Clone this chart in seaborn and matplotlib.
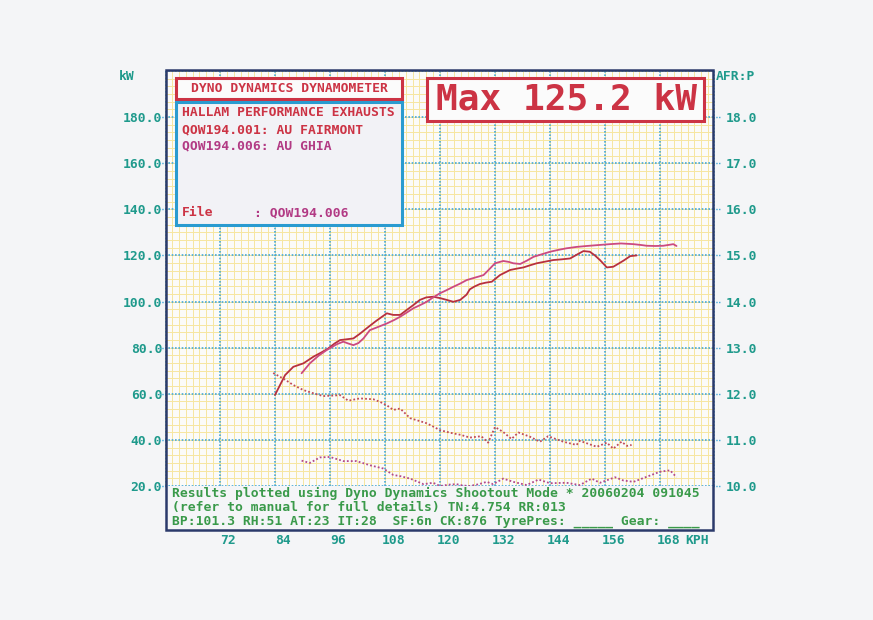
import matplotlib
matplotlib.use("Agg")
import matplotlib.pyplot as plt
import matplotlib.patches as patches
import matplotlib.transforms as mtransforms
import numpy as np
import pandas as pd
import seaborn as sns

# power run QOW194.006 (AU GHIA)
ghia_kph = [89.8, 91.6, 93.5, 95.3, 97.5, 98.9, 100.0, 101.1, 102.2, 103.3, 104.7, 106.5,
            108.4, 110.0, 111.3, 112.8, 114.2, 115.7, 117.1, 118.5, 120.0, 121.5, 122.9,
            124.4, 125.8, 127.3, 128.7, 129.5, 130.5, 132.0, 133.8, 135.0, 136.0, 137.5,
            139.0, 140.4, 142.2, 144.0, 145.8, 147.6, 149.8, 152.0, 154.5, 157.1, 159.5,
            162.2, 164.0, 165.1, 167.0, 168.7, 170.0, 170.9, 171.6]
ghia_kw = [68.9, 73.2, 76.5, 79.0, 81.5, 82.6, 81.8, 81.1, 82.0, 84.0, 87.6, 89.0,
           90.5, 92.0, 93.4, 95.3, 97.1, 98.5, 99.9, 101.8, 103.6, 105.0, 106.4,
           107.8, 109.3, 110.2, 111.0, 111.5, 113.5, 116.6, 117.6, 117.2, 116.6, 116.3,
           117.8, 119.4, 120.5, 121.6, 122.4, 123.1, 123.7, 124.1, 124.5, 124.9, 125.2,
           124.9, 124.5, 124.2, 124.1, 124.2, 124.6, 124.9, 124.1]

# power run QOW194.001 (AU FAIRMONT)
fair_kph = [84.0, 85.1, 86.2, 88.0, 90.2, 92.4, 94.0, 95.5, 97.0, 98.2, 99.5, 101.1,
            102.5, 104.0, 106.0, 108.4, 109.8, 111.3, 112.7, 114.2, 115.6, 117.0, 118.5,
            120.0, 121.5, 122.9, 124.4, 125.8, 126.5, 127.5, 128.7, 130.0, 131.3, 133.1,
            135.3, 136.8, 138.2, 139.6, 141.1, 142.9, 144.7, 146.5, 148.4, 150.0, 151.3,
            152.7, 153.8, 154.9, 155.7, 156.4, 157.8, 159.0, 160.0, 161.5, 162.9]
fair_kw = [59.5, 63.8, 68.1, 71.7, 73.2, 76.1, 77.8, 79.5, 81.8, 83.3, 83.6, 84.0,
           86.0, 88.4, 91.5, 94.9, 94.2, 94.2, 96.3, 98.5, 100.7, 101.8, 102.1,
           101.5, 100.7, 99.9, 100.7, 103.0, 105.3, 106.5, 107.6, 108.2, 108.6, 111.5,
           113.7, 114.3, 114.8, 115.7, 116.6, 117.3, 118.0, 118.3, 118.7, 120.5, 121.9,
           121.6, 120.0, 118.0, 116.3, 114.8, 115.1, 116.5, 117.7, 119.7, 120.0]

# air fuel ratio, FAIRMONT run
fair_afr_kph = [83.6, 85.8, 88.0, 90.2, 92.4, 94.5, 96.5, 98.2, 100.0, 102.5, 105.5, 107.0,
                108.4, 109.8, 111.3, 113.5, 115.5, 117.1, 118.5, 120.0, 122.9, 124.5, 126.5,
                129.0, 130.5, 132.0, 133.8, 135.6, 137.1, 139.6, 141.8, 143.6, 145.5, 146.9,
                149.8, 150.5, 152.5, 154.2, 156.4, 157.8, 159.6, 160.8, 161.8]
fair_afr = [12.45, 12.33, 12.19, 12.08, 12.01, 11.95, 11.96, 11.97, 11.85, 11.90, 11.88, 11.82,
            11.75, 11.65, 11.68, 11.47, 11.41, 11.36, 11.29, 11.21, 11.14, 11.11, 11.05,
            11.08, 10.94, 11.28, 11.17, 11.02, 11.16, 11.07, 10.96, 11.08, 11.01, 10.96,
            10.89, 10.98, 10.91, 10.85, 10.94, 10.81, 10.96, 10.87, 10.89]

# air fuel ratio, GHIA run
ghia_afr_kph = [89.8, 91.6, 93.8, 96.0, 98.9, 101.8, 104.7, 107.6, 109.8, 111.5, 113.5, 116.4,
                118.5, 120.0, 122.0, 123.6, 125.0, 126.5, 128.5, 130.2, 131.6, 133.8, 136.0,
                138.9, 141.5, 144.0, 147.6, 150.5, 153.1, 154.9, 158.2, 160.0, 162.2, 165.1,
                168.0, 170.2, 171.6]
ghia_afr = [10.55, 10.50, 10.62, 10.63, 10.54, 10.54, 10.45, 10.38, 10.24, 10.21, 10.16, 10.04,
            10.07, 10.00, 10.03, 10.04, 10.01, 10.00, 10.04, 10.09, 10.04, 10.16, 10.09,
            10.02, 10.14, 10.06, 10.07, 10.02, 10.16, 10.07, 10.19, 10.12, 10.09, 10.20,
            10.31, 10.34, 10.19]

kw_ticks = [20, 40, 60, 80, 100, 120, 140, 160, 180]
afr_ticks = [10, 11, 12, 13, 14, 15, 16, 17, 18]
kph_ticks = [72, 84, 96, 108, 120, 132, 144, 156, 168]

footer = [
    "Results plotted using Dyno Dynamics Shootout Mode * 20060204 091045",
    "(refer to manual for full details) TN:4.754 RR:013",
    "BP:101.3 RH:51 AT:23 IT:28  SF:6n CK:876 TyrePres: _____ Gear: ____",
]

W, H = 873, 620
TEAL = "#1f9a8c"
RED = "#cc3344"
MAG = "#b23a84"
GREEN = "#3a9a4a"
BLUE = "#45a8d8"
YELLOW = "#f6e6a0"


def fx(x):
    return x / W


def fy(y):
    return 1 - y / H


sns.set_style("white")
plt.rcParams['font.family'] = ['DejaVu Sans Mono']
plt.rcParams['font.weight'] = 'bold'
FS = 9.4

fig = plt.figure(figsize=(W / 100, H / 100), dpi=100, facecolor="#f4f5f7")
ax = fig.add_axes([fx(165), fy(486), (715 - 165) / W, (486 - 71) / H])
ax.set_facecolor("#fbfbf9")

# yellow fine grid and blue dotted major grid
ax.vlines(np.arange(60, 180.1, 1.5), 20, 200, color=YELLOW, lw=0.7, zorder=0.5)
ax.hlines(np.arange(20, 200.1, 20 / 6), 60, 180, color=YELLOW, lw=0.7, zorder=0.5)
ax.vlines(np.arange(60, 181, 12), 20, 200, color=BLUE, lw=1.2, ls=(0, (1, 1)), zorder=0.7)
ax.hlines(np.arange(20, 201, 20), 60, 180, color=BLUE, lw=1.2, ls=(0, (1, 1)), zorder=0.7)

power = pd.concat([
    pd.DataFrame({"kph": fair_kph, "kw": fair_kw, "run": "QOW194.001"}),
    pd.DataFrame({"kph": ghia_kph, "kw": ghia_kw, "run": "QOW194.006"}),
])
sns.lineplot(data=power, x="kph", y="kw", hue="run", estimator=None, sort=False,
             palette={"QOW194.001": "#b8303e", "QOW194.006": "#cc4a80"},
             lw=1.3, legend=False, ax=ax, zorder=3)

ax.set_xlim(60, 180)
ax.set_ylim(20, 200)
ax.set_xticks([])
ax.set_yticks(kw_ticks)
ax.set_yticklabels([f"{v:.1f}" for v in kw_ticks])
ax.tick_params(axis="y", length=0, pad=2, labelcolor=TEAL, labelsize=FS)
ax.set_xlabel("")
ax.set_ylabel("")
for s in ax.spines.values():
    s.set_visible(False)

ax2 = ax.twinx()
afr = pd.concat([
    pd.DataFrame({"kph": fair_afr_kph, "afr": fair_afr, "run": "QOW194.001"}),
    pd.DataFrame({"kph": ghia_afr_kph, "afr": ghia_afr, "run": "QOW194.006"}),
])
sns.lineplot(data=afr, x="kph", y="afr", hue="run", estimator=None, sort=False,
             palette={"QOW194.001": "#c04a58", "QOW194.006": "#b2488c"},
             lw=1.3, ls=(0, (1, 1.2)), legend=False, ax=ax2, zorder=3)
ax2.set_xlim(60, 180)
ax2.set_ylim(10, 19)
ax2.set_yticks(afr_ticks)
ax2.set_yticklabels([f"{v:.1f}" for v in afr_ticks])
ax2.tick_params(axis="y", length=0, pad=8, labelcolor=TEAL, labelsize=FS)
ax2.set_xlabel("")
ax2.set_ylabel("")
for s in ax2.spines.values():
    s.set_visible(False)

# kph labels sit below the results text
trans = mtransforms.blended_transform_factory(ax.transData, fig.transFigure)
for v in kph_ticks:
    ax.text(v + 1.8, fy(541), str(v), transform=trans, ha="center", va="center",
            color=TEAL, fontsize=FS, clip_on=False)
ax.text(176, fy(541), "KPH", transform=trans, ha="center", va="center",
        color=TEAL, fontsize=FS, clip_on=False)

fig.text(fx(135), fy(77), "kW", ha="right", va="center", color=TEAL, fontsize=FS)
fig.text(fx(716), fy(77), "AFR:P", ha="left", va="center", color=TEAL, fontsize=FS)

# little dotted tick stubs outside the frame
for v in kw_ticks:
    y = 486 - (v - 20) * 415 / 180
    fig.add_artist(plt.Line2D([fx(159), fx(166)], [fy(y), fy(y)], color=BLUE, lw=1,
                              ls=(0, (1, 1)), transform=fig.transFigure))
    fig.add_artist(plt.Line2D([fx(713), fx(720)], [fy(y), fy(y)], color=BLUE, lw=1,
                              ls=(0, (1, 1)), transform=fig.transFigure))

# outer frame
fig.add_artist(patches.Rectangle((fx(166), fy(530)), (713 - 166) / W, (530 - 70) / H,
                                 transform=fig.transFigure, fill=False,
                                 ec="#2b3a6b", lw=1.8, zorder=5))


def box(x0, y0, x1, y1, ec, fc, lw):
    fig.add_artist(patches.Rectangle((fx(x0), fy(y1)), (x1 - x0) / W, (y1 - y0) / H,
                                     transform=fig.transFigure, fc=fc, ec=ec, lw=lw,
                                     zorder=6))


box(176, 78, 402, 99, RED, "#fbfbfb", 2.2)
box(176, 102, 402, 225, "#2a9bd0", "#f2f2f6", 2.2)
box(427, 78, 704, 121, RED, "#fbfbfb", 2.2)

fig.text(fx(289), fy(88.5), "DYNO DYNAMICS DYNAMOMETER", ha="center", va="center",
         color=RED, fontsize=FS, zorder=7)
fig.text(fx(182), fy(112), "HALLAM PERFORMANCE EXHAUSTS", ha="left", va="center",
         color=RED, fontsize=FS, zorder=7)
fig.text(fx(182), fy(130), "QOW194.001: AU FAIRMONT", ha="left", va="center",
         color=RED, fontsize=FS, zorder=7)
fig.text(fx(182), fy(146), "QOW194.006: AU GHIA", ha="left", va="center",
         color=MAG, fontsize=FS, zorder=7)
fig.text(fx(182), fy(213), "File", ha="left", va="center",
         color=RED, fontsize=FS, zorder=7)
fig.text(fx(254), fy(213), ": QOW194.006", ha="left", va="center",
         color=MAG, fontsize=FS, zorder=7)
fig.text(fx(566), fy(100), "Max 125.2 kW", ha="center", va="center",
         color=RED, fontsize=26, zorder=7)

for i, line in enumerate(footer):
    fig.text(fx(172), fy(493 + i * 14.3), line, ha="left", va="center",
             color=GREEN, fontsize=FS, zorder=8)

fig.savefig("out.png", dpi=100, facecolor=fig.get_facecolor())
